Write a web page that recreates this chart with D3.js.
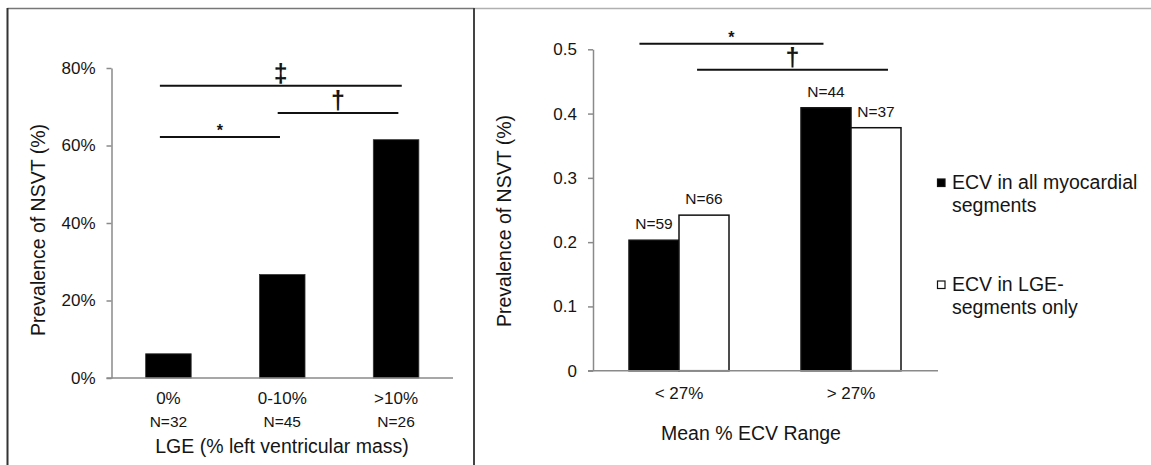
<!DOCTYPE html>
<html><head><meta charset="utf-8">
<script src="https://cdn.jsdelivr.net/npm/d3@7"></script>
<style>
body{margin:0;background:#fff}
svg{display:block}
text{font-family:"Liberation Sans",Arial,sans-serif;fill:#151515}
</style>
</head><body>
<svg id="c" width="1151" height="465"></svg>
<script>
// ---- Left chart data ----
const lgeCategories = ["0%", "0-10%", ">10%"];
const lgeCounts = ["N=32", "N=45", "N=26"];
const lgePrevalence = [6.25, 26.7, 61.5];
const lgeTicks = [0, 20, 40, 60, 80];
const lgeBrackets = [
  {from: -0.075, to: 0.98, level: 62.2, symbol: "*"},
  {from: 0.96, to: 2.02, level: 68.4, symbol: "\u2020"},
  {from: -0.075, to: 2.05, level: 75.4, symbol: "\u2021"}
];

// ---- Right chart data ----
const ecvCategories = ["< 27%", "> 27%"];
const ecvAll = [0.203, 0.409];
const ecvLge = [0.242, 0.378];
const ecvAllN = ["N=59", "N=44"];
const ecvLgeN = ["N=66", "N=37"];
const ecvTicks = [0, 0.1, 0.2, 0.3, 0.4, 0.5];
const ecvLegend = [["ECV in all myocardial", "segments"], ["ECV in LGE-", "segments only"]];
const ecvBrackets = [
  {from: -0.23, to: 0.84, level: 0.5085, symbol: "*"},
  {from: 0.105, to: 1.215, level: 0.468, symbol: "\u2020"}
];

const svg = d3.select("#c");
const AX = "#8a8a8a";

// ---- panel frames ----
svg.append("line").attr("x1", 474).attr("x2", 1151).attr("y1", 8.5).attr("y2", 8.5)
  .attr("stroke", "#b0b0b0").attr("stroke-width", 1.5);
svg.append("line").attr("x1", 7.5).attr("x2", 474).attr("y1", 8.5).attr("y2", 8.5)
  .attr("stroke", "#777").attr("stroke-width", 1.5);
svg.append("line").attr("x1", 7.5).attr("x2", 7.5).attr("y1", 8).attr("y2", 465)
  .attr("stroke", "#333").attr("stroke-width", 2);
svg.append("line").attr("x1", 474).attr("x2", 474).attr("y1", 8).attr("y2", 465)
  .attr("stroke", "#444").attr("stroke-width", 2);

function symSize(s) { return s === "*" ? 16 : 25; }
function symOffset(s) { return s === "*" ? 1 : 4; }

// ================= LEFT CHART =================
const yL = d3.scaleLinear().domain([0, 80]).range([378, 68]);
const xL = d3.scaleBand().domain(lgeCategories).range([111.5, 453]).paddingInner(0.6).paddingOuter(0.3);
const cL = d3.scaleLinear().domain([0, 2])
  .range([xL(lgeCategories[0]) + xL.bandwidth() / 2, xL(lgeCategories[2]) + xL.bandwidth() / 2]);

const gyL = svg.append("g").attr("transform", `translate(${xL.range()[0]},0)`)
  .call(d3.axisLeft(yL).tickValues(lgeTicks).tickFormat(d => d + "%").tickSize(5).tickSizeOuter(0).tickPadding(11));
gyL.selectAll("path,line").attr("stroke", AX).attr("stroke-width", 1.5);
gyL.selectAll("text").attr("font-size", 17).attr("font-family", "Liberation Sans, Arial, sans-serif").attr("fill", "#151515");

svg.selectAll(".barL").data(lgePrevalence).join("rect").attr("class", "barL")
  .attr("x", (d, i) => xL(lgeCategories[i])).attr("width", xL.bandwidth())
  .attr("y", d => yL(d)).attr("height", d => yL(0) - yL(d))
  .attr("fill", "#000").attr("stroke", "#333").attr("stroke-width", 0.8);

svg.append("line").attr("x1", xL.range()[0] - 5).attr("x2", xL.range()[1])
  .attr("y1", yL(0)).attr("y2", yL(0)).attr("stroke", AX).attr("stroke-width", 1.5);

svg.selectAll(".xlabL").data(lgeCategories).join("text").attr("class", "xlabL")
  .attr("x", d => xL(d) + xL.bandwidth() / 2).attr("y", 404)
  .attr("text-anchor", "middle").attr("font-size", 17).text(d => d);
svg.selectAll(".nL").data(lgeCounts).join("text").attr("class", "nL")
  .attr("x", (d, i) => xL(lgeCategories[i]) + xL.bandwidth() / 2).attr("y", 427)
  .attr("text-anchor", "middle").attr("font-size", 15.5).text(d => d);

svg.append("text").attr("x", 282).attr("y", 453).attr("text-anchor", "middle")
  .attr("font-size", 19.5).text("LGE (% left ventricular mass)");
svg.append("text").attr("transform", "translate(45,230) rotate(-90)").attr("text-anchor", "middle")
  .attr("font-size", 19.5).text("Prevalence of NSVT (%)");

lgeBrackets.forEach(b => {
  svg.append("line").attr("x1", cL(b.from)).attr("x2", cL(b.to))
    .attr("y1", yL(b.level)).attr("y2", yL(b.level)).attr("stroke", "#111").attr("stroke-width", 2);
  svg.append("text").attr("x", (cL(b.from) + cL(b.to)) / 2)
    .attr("y", yL(b.level) - symOffset(b.symbol))
    .attr("text-anchor", "middle").attr("font-size", symSize(b.symbol)).attr("font-weight", "bold").text(b.symbol);
});

// ================= RIGHT CHART =================
const yR = d3.scaleLinear().domain([0, 0.5]).range([370.7, 49.3]);
const xR = d3.scaleBand().domain(ecvCategories).range([593, 937]).padding(0);
const sub = d3.scaleBand().domain([0, 1]).range([-50, 50]);
const cR = d3.scaleLinear().domain([0, 1])
  .range([xR(ecvCategories[0]) + xR.bandwidth() / 2, xR(ecvCategories[1]) + xR.bandwidth() / 2]);

const gyR = svg.append("g").attr("transform", `translate(${xR.range()[0]},0)`)
  .call(d3.axisLeft(yR).tickValues(ecvTicks).tickFormat(d => d === 0 ? "0" : d3.format(".1f")(d))
    .tickSize(5).tickSizeOuter(0).tickPadding(11));
gyR.selectAll("path,line").attr("stroke", AX).attr("stroke-width", 1.5);
gyR.selectAll("text").attr("font-size", 17).attr("font-family", "Liberation Sans, Arial, sans-serif").attr("fill", "#151515");

const seriesR = [
  {vals: ecvAll, ns: ecvAllN, fill: "#000"},
  {vals: ecvLge, ns: ecvLgeN, fill: "#fff"}
];
seriesR.forEach((s, si) => {
  svg.selectAll(".barR" + si).data(s.vals).join("rect").attr("class", "barR" + si)
    .attr("x", (d, i) => cR(i) + sub(si)).attr("width", sub.bandwidth())
    .attr("y", d => yR(d)).attr("height", d => yR(0) - yR(d))
    .attr("fill", s.fill).attr("stroke", "#111").attr("stroke-width", 1.5);
  svg.selectAll(".nR" + si).data(s.ns).join("text").attr("class", "nR" + si)
    .attr("x", (d, i) => cR(i) + sub(si) + sub.bandwidth() / 2)
    .attr("y", (d, i) => yR(s.vals[i]) - 11)
    .attr("text-anchor", "middle").attr("font-size", 15.5).text(d => d);
});

svg.append("line").attr("x1", xR.range()[0] - 5).attr("x2", xR.range()[1] + 1)
  .attr("y1", yR(0)).attr("y2", yR(0)).attr("stroke", AX).attr("stroke-width", 1.5);

svg.selectAll(".xlabR").data(ecvCategories).join("text").attr("class", "xlabR")
  .attr("x", d => xR(d) + xR.bandwidth() / 2).attr("y", 399)
  .attr("text-anchor", "middle").attr("font-size", 17).text(d => d);

svg.append("text").attr("x", 751).attr("y", 440).attr("text-anchor", "middle")
  .attr("font-size", 19.5).text("Mean % ECV Range");
svg.append("text").attr("transform", "translate(510.5,221) rotate(-90)").attr("text-anchor", "middle")
  .attr("font-size", 19.5).text("Prevalence of NSVT (%)");

ecvBrackets.forEach(b => {
  svg.append("line").attr("x1", cR(b.from)).attr("x2", cR(b.to))
    .attr("y1", yR(b.level)).attr("y2", yR(b.level)).attr("stroke", "#111").attr("stroke-width", 2);
  svg.append("text").attr("x", (cR(b.from) + cR(b.to)) / 2)
    .attr("y", yR(b.level) - symOffset(b.symbol))
    .attr("text-anchor", "middle").attr("font-size", symSize(b.symbol)).attr("font-weight", "bold").text(b.symbol);
});

// legend
const legY = [179, 281];
ecvLegend.forEach((lines, i) => {
  svg.append("rect").attr("x", 937.5).attr("y", legY[i]).attr("width", 7.5).attr("height", 7.5)
    .attr("fill", seriesR[i].fill).attr("stroke", "#111").attr("stroke-width", 1.2);
  lines.forEach((t, j) => {
    svg.append("text").attr("x", 952).attr("y", legY[i] + 10 + j * 23)
      .attr("font-size", 19.5).text(t);
  });
});
</script>
</body></html>
